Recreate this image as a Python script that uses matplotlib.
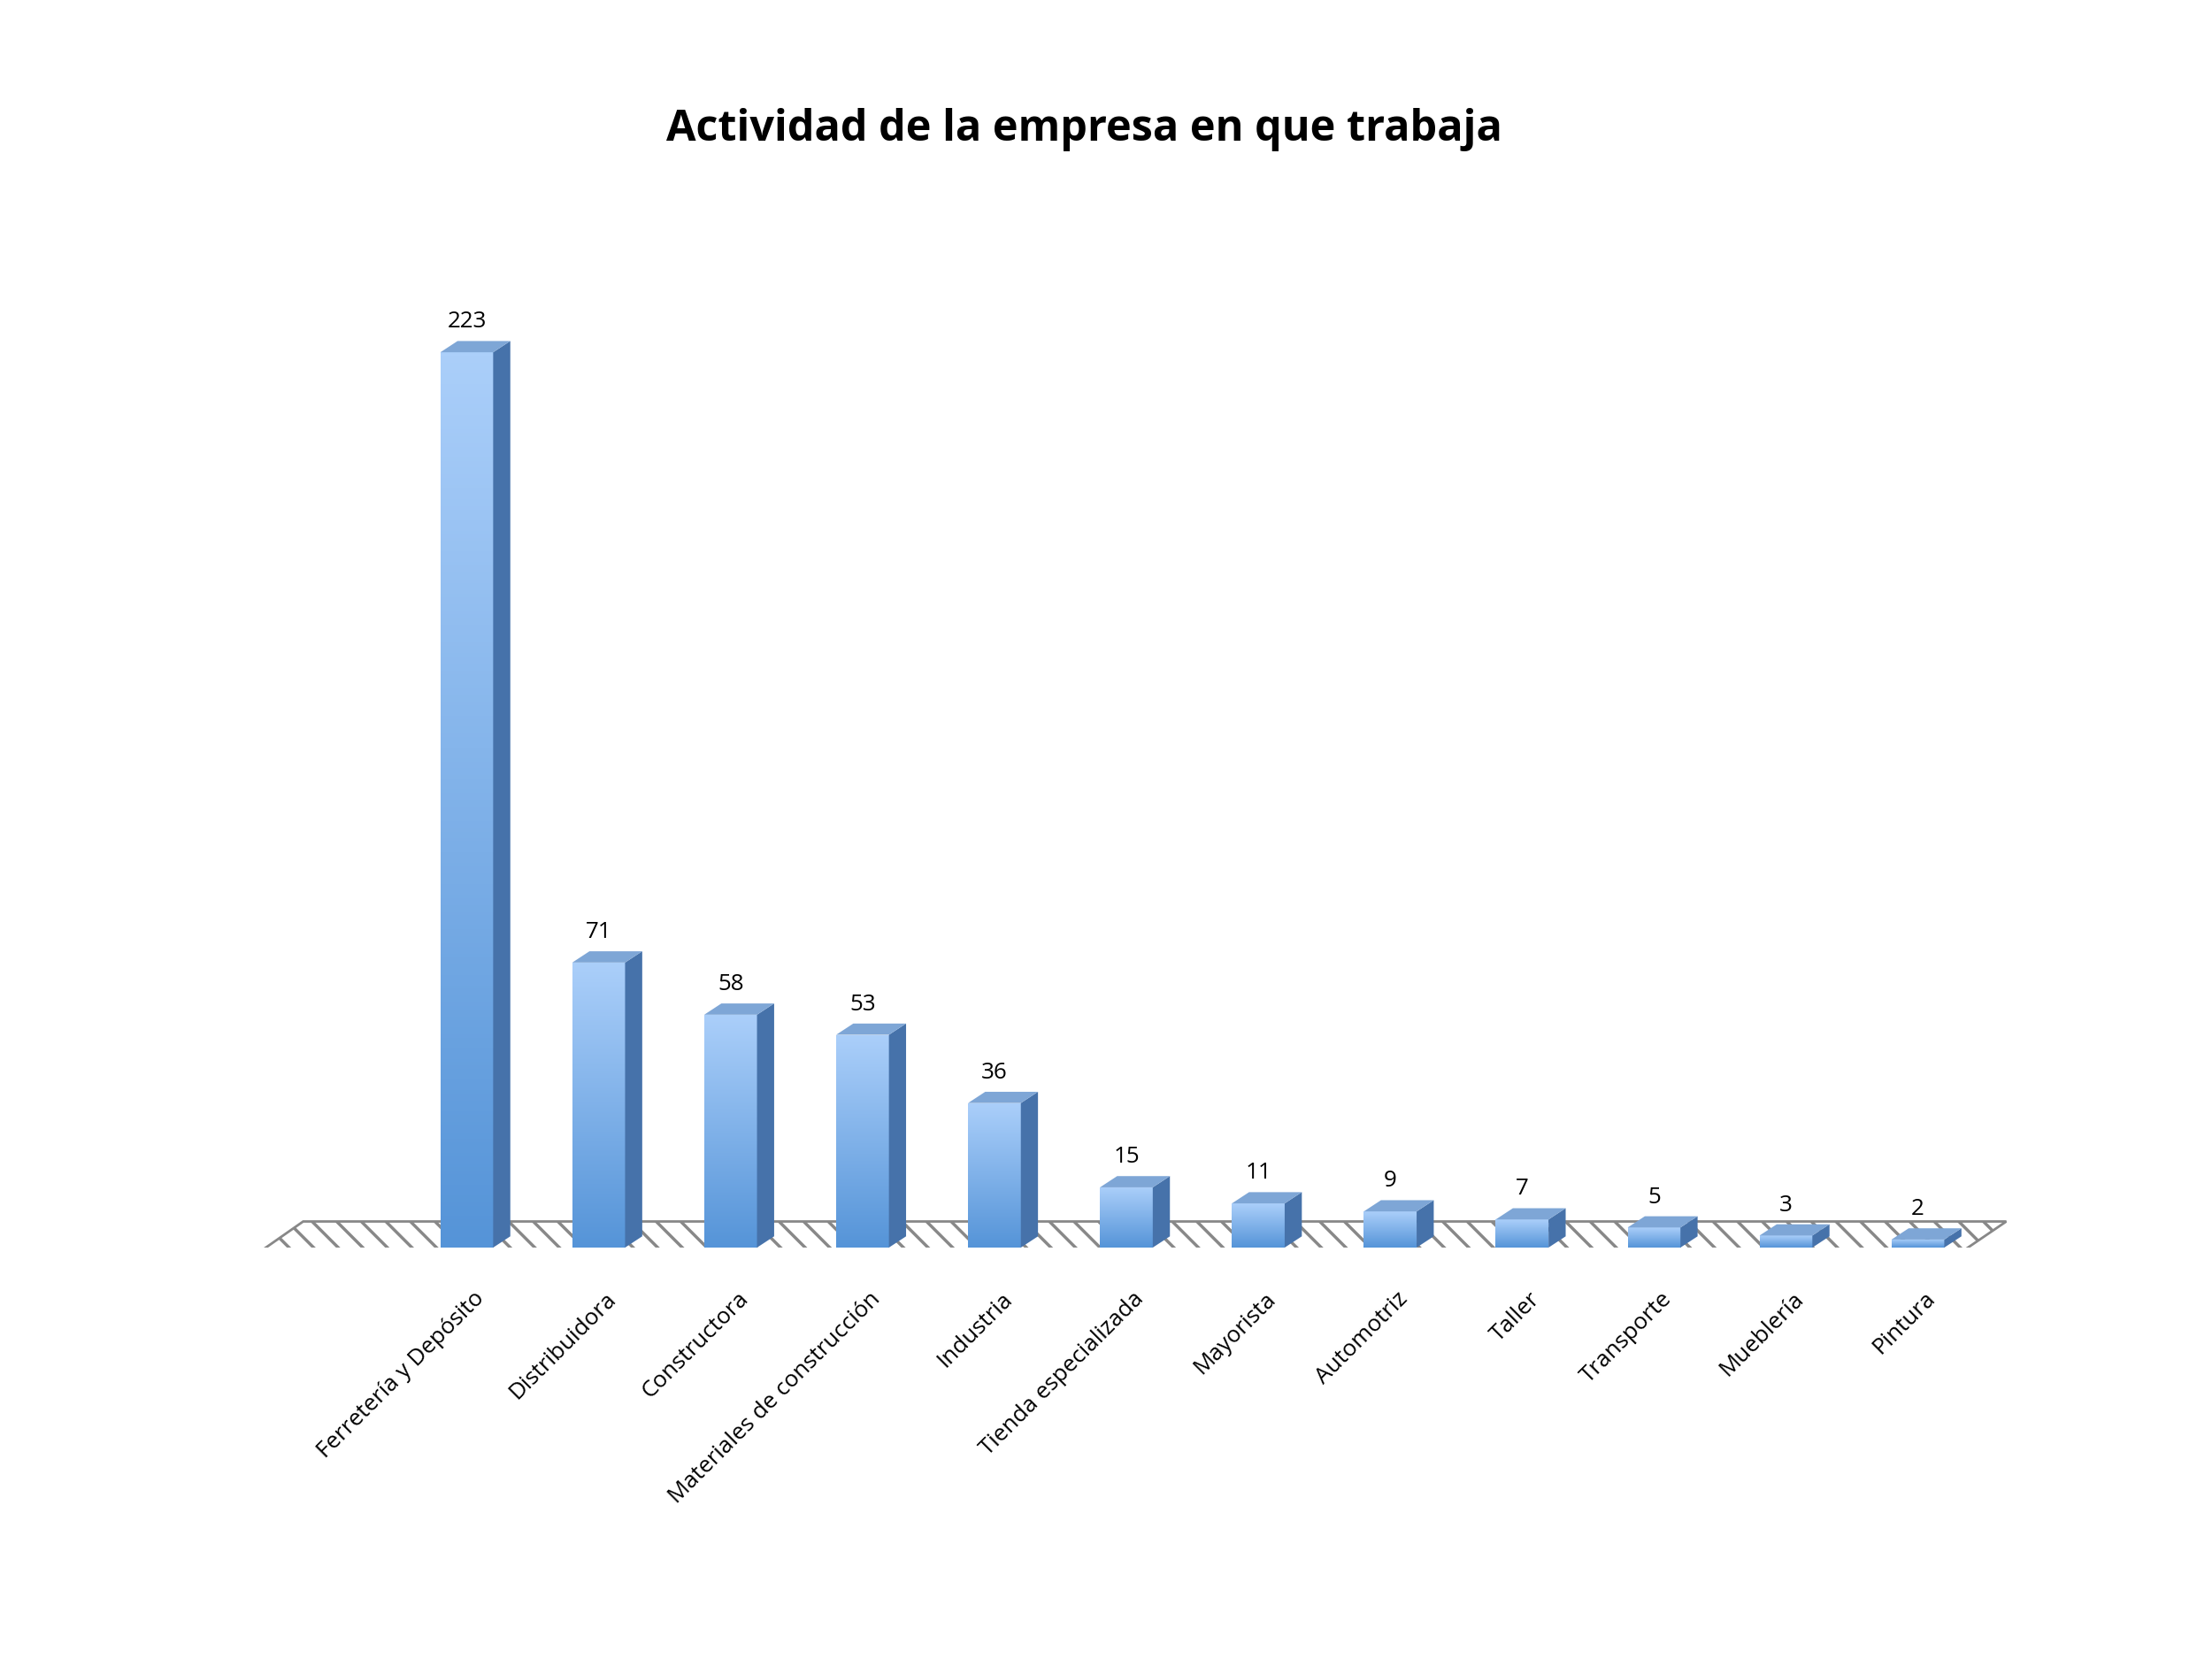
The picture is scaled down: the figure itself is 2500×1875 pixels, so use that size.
import numpy as np
import matplotlib
matplotlib.use("Agg")
import matplotlib.pyplot as plt
from matplotlib.patches import Polygon, Rectangle
from matplotlib.colors import LinearSegmentedColormap

categories = ["Ferretería y Depósito", "Distribuidora", "Constructora",
              "Materiales de construcción", "Industria", "Tienda especializada",
              "Mayorista", "Automotriz", "Taller", "Transporte", "Mueblería", "Pintura"]
values = [223, 71, 58, 53, 36, 15, 11, 9, 7, 5, 3, 2]
title = "Actividad de la empresa en que trabaja"

plt.rcParams["font.family"] = "Open Sans"
fig = plt.figure(figsize=(10, 7.5), dpi=250)
ax = fig.add_axes([0.115, 0.248, 0.792, 0.605])
ax.set_xlim(-1.61, 11.67)
ax.set_ylim(0, 250)
ax.axis("off")

# floor
floor = Polygon([(-1.61, -2), (11.29, -2), (11.67, 6.5), (-1.24, 6.5)],
                closed=True, facecolor="white", edgecolor="#888888", lw=0.8,
                hatch="\\\\\\", zorder=1)
plt.rcParams["hatch.color"] = "#cfcfcf"
ax.add_patch(floor)

cmap = LinearSegmentedColormap.from_list("b", ["#5594d8", "#abcffa"])
w, dx, dy = 0.4, 0.13, 2.8
grad = np.linspace(0, 1, 256).reshape(-1, 1)
for i, v in enumerate(values):
    x0 = i - w / 2
    rect = Rectangle((x0, 0), w, v, facecolor="none", edgecolor="none", zorder=3)
    ax.add_patch(rect)
    im = ax.imshow(grad, cmap=cmap, origin="lower", extent=(x0, x0 + w, 0, v),
                   aspect="auto", zorder=3)
    im.set_clip_path(rect)
    side = Polygon([(x0 + w, 0), (x0 + w + dx, dy), (x0 + w + dx, v + dy), (x0 + w, v)],
                   facecolor="#4672aa", edgecolor="none", zorder=3)
    top = Polygon([(x0, v), (x0 + w, v), (x0 + w + dx, v + dy), (x0 + dx, v + dy)],
                  facecolor="#7ea6d6", edgecolor="none", zorder=3)
    ax.add_patch(side)
    ax.add_patch(top)
    ax.text(i, v + dy + 2, str(v), ha="center", va="bottom", fontsize=7.5, zorder=4)
    ax.text(i + 0.05, -10, categories[i], rotation=45, ha="right", va="top",
            rotation_mode="anchor", fontsize=7.5)

ax.set_xlim(-1.61, 11.67)
ax.set_ylim(0, 250)
fig.text(0.49, 0.922, title, ha="center", va="center", fontsize=14, fontweight="bold")
fig.savefig("out.png", dpi=250, facecolor="white")
